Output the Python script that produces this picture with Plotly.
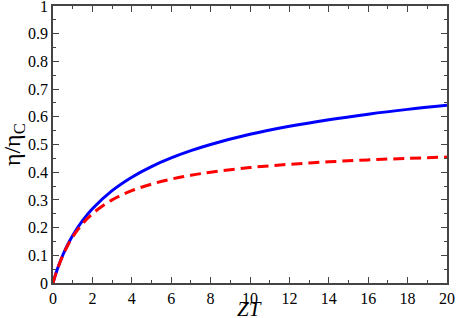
import plotly.graph_objects as go

zt = [0, 0.1, 0.25, 0.5, 0.75, 1, 1.5, 2, 3, 4, 5, 6, 7, 8, 10, 12, 14, 16, 18, 20]
eta_max = [0, 0.0238, 0.0557, 0.1010, 0.1390, 0.1716, 0.2251, 0.2679, 0.3333, 0.3820,
           0.4202, 0.4514, 0.4776, 0.5000, 0.5367, 0.5657, 0.5896, 0.6096, 0.6268, 0.6417]
eta_mp = [0, 0.0238, 0.0556, 0.1000, 0.1364, 0.1667, 0.2143, 0.2500, 0.3000, 0.3333,
          0.3571, 0.3750, 0.3889, 0.4000, 0.4167, 0.4286, 0.4375, 0.4444, 0.4500, 0.4545]

SERIF = "Liberation Serif, Times New Roman, serif"

fig = go.Figure()
fig.add_trace(go.Scatter(x=zt, y=eta_max, mode="lines", line=dict(color="#0000ff", width=3, shape="spline"),
                         showlegend=False))
fig.add_trace(go.Scatter(x=zt, y=eta_mp, mode="lines",
                         line=dict(color="#ff0000", width=3, dash="11px,6px", shape="spline"),
                         showlegend=False))

font = dict(family=SERIF, size=16, color="#000000")
axis_common = dict(showgrid=False, zeroline=False, showline=True, linecolor="#444", linewidth=1.5,
                   mirror="ticks", ticks="inside", ticklen=6, tickcolor="#444", tickwidth=1.2,
                   tickfont=font, automargin=False, ticklabeloverflow="allow")
fig.update_xaxes(range=[0, 20], tick0=0, dtick=2, **axis_common,
                 minor=dict(dtick=1, ticks="inside", ticklen=3, tickcolor="#444"))
fig.update_yaxes(range=[0, 1], tick0=0, dtick=0.1, **axis_common,
                 minor=dict(dtick=0.05, ticks="inside", ticklen=3, tickcolor="#444"))
fig.add_annotation(text="<i>ZT</i>", xref="paper", yref="paper", x=0.499, y=-0.043, yanchor="top",
                   showarrow=False, font=dict(family=SERIF, size=21, color="black"))
fig.add_annotation(text="η/η<sub>C</sub>", xref="paper", yref="paper", x=-0.1, y=0.5, xanchor="center",
                   textangle=-90, showarrow=False, font=dict(family=SERIF, size=24, color="black"))
fig.update_layout(width=457, height=318, margin=dict(l=53, r=9.5, t=5.5, b=35),
                  paper_bgcolor="white", plot_bgcolor="white")
fig.write_html("out.html", config={"displayModeBar": False},
               post_script="document.body.style.margin='0';document.body.style.overflow='hidden';")
